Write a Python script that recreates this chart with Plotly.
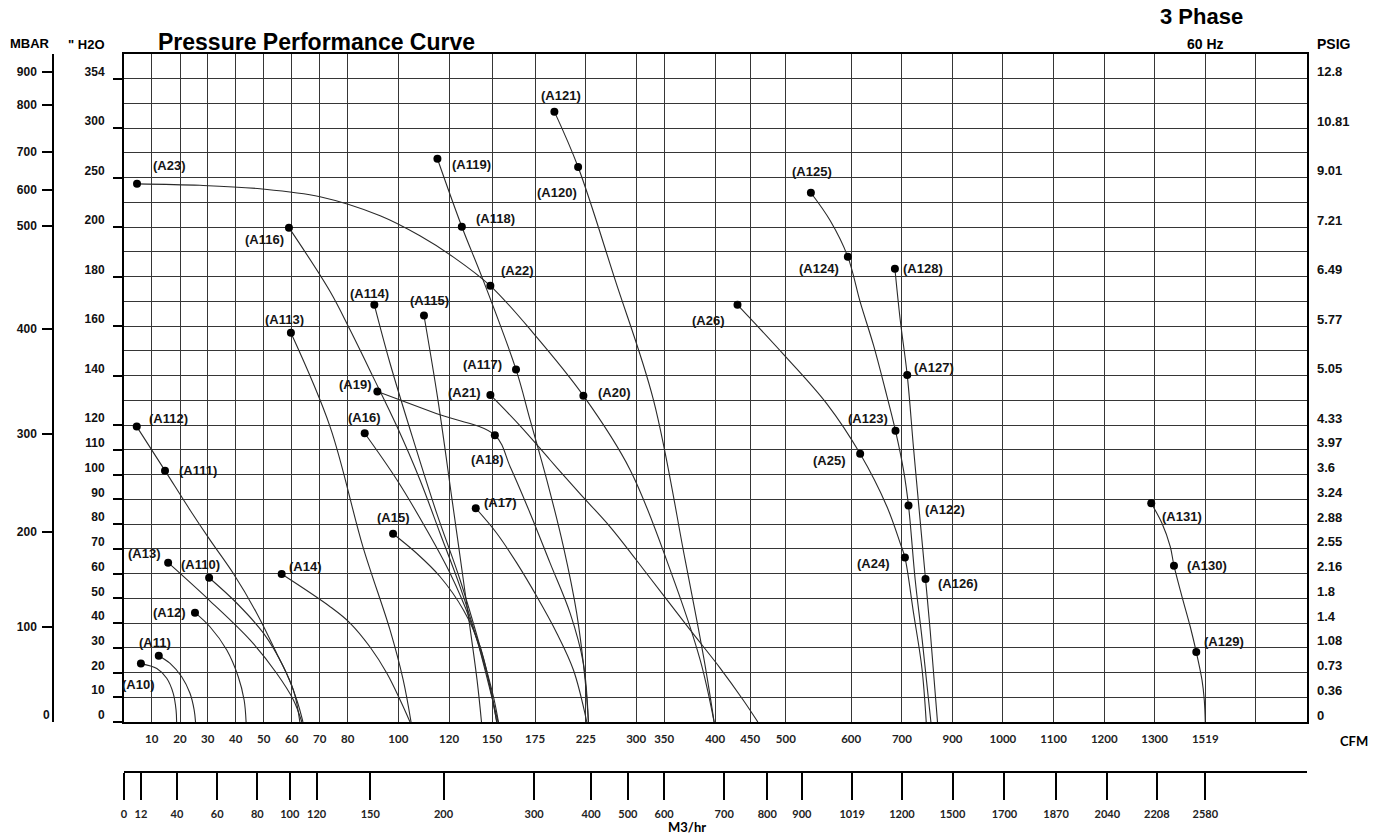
import numpy as np
import plotly.graph_objects as go

# ---------------- axis scales of the printed chart (non-uniform grid) ----------------
CFM_GRID = [0, 10, 20, 30, 40, 50, 60, 70, 80, 100, 120, 150, 175, 225, 300, 350, 400, 450,
            500, 600, 700, 900, 1000, 1100, 1200, 1300, 1519, 1620, 1720]
CFM_LABELS = ['', '10', '20', '30', '40', '50', '60', '70', '80', '100', '120', '150', '175', '225',
              '300', '350', '400', '450', '500', '600', '700', '900', '1000', '1100', '1200', '1300',
              '1519', '', '']
CFM_GRID_UNITS = [0, 27.7, 56, 83.7, 111.7, 139.7, 167.7, 195.7, 223.7, 274.3, 325, 368, 411, 461.7,
                  512, 540, 591, 626, 661.7, 727, 777.7, 828.3, 878.7, 929.3, 980, 1030.3, 1081,
                  1131.7, 1182.7]

H2O_BREAKS = [0, 200, 250, 300, 354, 381]
ROW_BREAKS = [0, 20, 22, 24, 26, 27]

H2O_TICKS = [0, 10, 20, 30, 40, 50, 60, 70, 80, 90, 100, 110, 120, 140, 160, 180, 200, 250, 300, 354]
PSIG_LABELS = ['0', '0.36', '0.73', '1.08', '1.4', '1.8', '2.16', '2.55', '2.88', '3.24', '3.6',
               '3.97', '4.33', '5.05', '5.77', '6.49', '7.21', '9.01', '10.81', '12.8']
MBAR_LABELS = ['100', '200', '300', '400', '500', '600', '700', '800', '900']
MBAR_AT_H2O = [38.3, 76.9, 116.4, 159, 201, 238, 276.3, 325.4, 361.8]
MBAR_ZERO = '0'

M3HR_LABELS = ['0', '12', '40', '60', '80', '100', '120', '150', '200', '300', '400', '500', '600',
               '700', '800', '900', '1019', '1200', '1500', '1700', '1870', '2040', '2208', '2580']
M3HR_AT_CFM = [0, 6.1, 18.9, 33.4, 47.7, 59.3, 68.9, 88.9, 117.8, 174.4, 232.9, 287.6, 350,
               412.9, 474, 524.5, 602, 700, 900, 1003, 1105, 1206, 1310, 1519]

# ---------------- pump curves (CFM vs inches H2O) ----------------
A10_CFM = [6.1, 11.8, 15.3, 17.6, 18.6, 18.8]
A10_H2O = [23.6, 21.6, 17.7, 11.6, 4.9, 0]
A11_CFM = [12.5, 16.5, 20.6, 23.6, 25.1, 25.6]
A11_H2O = [26.8, 23.7, 18.3, 11.6, 4.9, 0]
A12_CFM = [25.4, 30.8, 36.8, 40.9, 43.0, 43.7]
A12_H2O = [44.2, 38.5, 29.1, 18.3, 8.9, 0]
A13_CFM = [15.8, 30.5, 45.1, 54.6, 60.6, 63.6]
A13_H2O = [64.4, 49.3, 33.2, 19.7, 8.9, 0]
A110_CFM = [30.5, 40.4, 49.9, 57.0, 61.8, 64.0]
A110_H2O = [58.3, 48.0, 35.9, 22.4, 8.9, 0]
A112_CFM = [4.6, 14.7, 23.6, 30.8, 39.1, 47.5, 54.6, 60.6, 62.9]
A112_H2O = [119.4, 101.6, 85.7, 73.6, 60.1, 44.0, 27.8, 12.9, 0]
A14_CFM = [56.4, 73.7, 80.9, 88.8, 95.4, 100.7, 104.6]
A14_H2O = [59.8, 46.6, 40.0, 30.3, 19.8, 8.9, 0]
A113_CFM = [59.7, 73.7, 86.0, 96.7, 101.9, 105.0]
A113_H2O = [157.3, 119.3, 70.8, 37.2, 17.0, 0]
A116_CFM = [59.0, 73.7, 80.9, 90.0, 99.5, 108.5, 116.4, 127.7, 139.5, 148.6, 153.5]
A116_H2O = [199.8, 174.0, 158.5, 139.5, 119.3, 97.9, 76.4, 54.6, 33.2, 12.9, 0]
A114_CFM = [90.5, 96.7, 105.9, 115.1, 127.7, 141.6, 150.8, 153.7]
A114_H2O = [168.6, 145.0, 114.0, 84.4, 57.4, 30.5, 10.2, 0]
A115_CFM = [110.1, 115.6, 122.1, 131.9, 139.5, 142.6]
A115_H2O = [164.3, 130.2, 89.8, 49.3, 17.0, 0]
A16_CFM = [86.7, 99.4, 111.2, 120.7, 134.7, 146.3, 152.7]
A16_H2O = [116.7, 97.9, 77.6, 60.1, 41.2, 19.7, 0]
A15_CFM = [97.9, 107.2, 116.4, 130.0, 141.6, 148.6, 152.7]
A15_H2O = [76.1, 68.2, 58.8, 45.3, 30.5, 14.3, 0]
A19_CFM = [91.7, 114.9, 151.6, 160.5, 172.1, 189.8, 209.5, 222.6, 228.9]
A19_H2O = [133.6, 124.7, 115.9, 103.2, 84.4, 64.2, 44.0, 23.7, 0]
A17_CFM = [138.6, 152.7, 164.4, 176.7, 196.4, 212.8, 226.5]
A17_H2O = [86.4, 76.3, 64.2, 50.7, 35.9, 21.0, 0]
A119_CFM = [115.4, 128.9, 143.7, 163.9, 172.1, 186.5, 202.9, 216.0, 224.3, 228.9]
A119_H2O = [269.2, 200.5, 178.7, 142.5, 122.1, 97.9, 70.9, 44.0, 17.0, 0]
A121_CFM = [194.0, 217.4, 268.7, 330.9, 370.6, 389.2, 399]
A121_H2O = [318.1, 260.8, 178.7, 130.2, 65.5, 25.1, 0]
A23_CFM = [4.7, 27.2, 48.7, 70.1, 92.8, 108.5, 122.8, 148.8, 173.8, 222.6, 291.1, 355.9, 385.3, 399]
A23_H2O = [243.8, 242.3, 238.8, 230.7, 211.5, 196.5, 188.0, 176.3, 157.3, 131.9, 101.9, 61.5, 25.1, 0]
A21_CFM = [148.8, 166.3, 189.8, 219.4, 261.2, 325.0, 375.5, 407.1, 440.0, 460.8]
A21_H2O = [132.2, 119.7, 105.9, 92.2, 78.9, 58.2, 37.2, 21.8, 8.9, 0]
A125_CFM = [538.3, 567.8, 594.9, 617.7, 644.0, 667.0, 687.4, 706.3, 726.1, 752.6, 780.2, 814.6]
A125_H2O = [234.8, 206.7, 188.0, 169.8, 152.3, 134.5, 117.7, 101.9, 87.5, 57.4, 33.2, 0]
A26_CFM = [431.9, 496.7, 562.8, 617.7, 670.4, 696.6, 711.9, 745.9, 779.1, 796.1]
A26_H2O = [168.6, 148.6, 128.6, 108.4, 87.1, 72.3, 66.5, 44.1, 21.8, 0]
A128_CFM = [686.2, 696.6, 721.0, 745.9, 772.3, 793.3, 811.9, 840.7]
A128_H2O = [183.2, 162.7, 140.3, 110.8, 81.2, 57.8, 36.8, 0]
A131_CFM = [1293.4, 1332.0, 1367.8, 1383.8, 1418.4, 1454.2, 1480.1, 1504.8, 1514.7, 1519]
A131_H2O = [88.4, 80.3, 70.9, 63.2, 50.7, 38.5, 28.3, 17.0, 8.9, 0]

CURVES = [(A10_CFM, A10_H2O), (A11_CFM, A11_H2O), (A12_CFM, A12_H2O), (A13_CFM, A13_H2O),
          (A110_CFM, A110_H2O), (A112_CFM, A112_H2O), (A14_CFM, A14_H2O), (A113_CFM, A113_H2O),
          (A116_CFM, A116_H2O), (A114_CFM, A114_H2O), (A115_CFM, A115_H2O), (A16_CFM, A16_H2O),
          (A15_CFM, A15_H2O), (A19_CFM, A19_H2O), (A17_CFM, A17_H2O), (A119_CFM, A119_H2O),
          (A121_CFM, A121_H2O), (A23_CFM, A23_H2O), (A21_CFM, A21_H2O), (A125_CFM, A125_H2O),
          (A26_CFM, A26_H2O), (A128_CFM, A128_H2O), (A131_CFM, A131_H2O)]

# ---------------- labelled model points ----------------
POINT_NAMES = ['A10', 'A11', 'A12', 'A13', 'A110', 'A111', 'A112', 'A14', 'A113', 'A116', 'A114',
               'A115', 'A19', 'A16', 'A15', 'A117', 'A21', 'A18', 'A17', 'A20', 'A22', 'A118',
               'A119', 'A121', 'A120', 'A23', 'A125', 'A124', 'A128', 'A26', 'A127', 'A123', 'A25',
               'A122', 'A24', 'A126', 'A131', 'A130', 'A129']
POINT_CFM = [6.1, 12.5, 25.4, 15.8, 30.5, 14.7, 4.6, 56.4, 59.7, 59.0, 90.5, 110.1, 91.7, 86.7,
             97.9, 163.9, 148.8, 151.6, 138.6, 222.6, 148.8, 128.9, 115.4, 194.0, 217.4, 4.7,
             538.3, 594.9, 686.2, 431.9, 721.0, 687.4, 617.7, 726.1, 711.9, 793.3, 1293.4, 1383.8,
             1480.1]
POINT_H2O = [23.6, 26.8, 44.2, 64.4, 58.3, 101.6, 119.4, 59.8, 157.3, 199.8, 168.6, 164.3, 133.6,
             116.7, 76.1, 142.5, 132.2, 115.9, 86.4, 131.9, 176.3, 200.5, 269.2, 318.1, 260.8,
             243.8, 234.8, 188.0, 183.2, 168.6, 140.3, 117.7, 108.4, 87.5, 66.5, 57.8, 88.4, 63.2,
             28.3]

# label placement style: (anchor, x shift px, y shift px downwards)
LABEL_STYLE = [('center', -2, 21), ('center', -4, -13), ('right', -7, 0), ('right', -5, -9),
               ('center', -9, -13), ('left', 12, 0), ('left', 10, -8), ('left', 5, -8),
               ('center', -6, -13), ('right', -3, 12), ('center', -5, -11), ('center', 6, -15),
               ('right', -3, -7), ('center', 0, -16), ('center', 0, -16), ('right', -12, -5),
               ('right', -7, -2), ('center', -7, 24), ('left', 6, -6), ('left', 13, -3),
               ('left', 9, -15), ('left', 12, -8), ('left', 13, 6), ('center', 7, -16),
               ('center', -21, 25), ('left', 14, -18), ('center', 1, -21), ('right', -7, 12),
               ('left', 6, 0), ('right', -10, 16), ('left', 5, -7), ('right', -6, -12),
               ('right', -12, 7), ('left', 14, 4), ('right', -13, 6), ('left', 10, 4),
               ('left', 9, 13), ('left', 11, 0), ('left', 6, -10)]


def fx(v):
    return np.interp(np.asarray(v, dtype=float), CFM_GRID, CFM_GRID_UNITS)


def fy(v):
    return np.interp(np.asarray(v, dtype=float), H2O_BREAKS, ROW_BREAKS)


# ---------------- figure geometry ----------------
W, H = 1382, 837
PL, PR, PT, PB = 20, 1307, 54, 772          # plotting region in px
XDOM0 = (124 - PL) / (PR - PL)
YDOM0 = (PB - 722) / (PB - PT)
XMAX = CFM_GRID_UNITS[-1]
YMAX = ROW_BREAKS[-1]


def paper_x(px):
    return (px - PL) / (PR - PL)


def paper_y(py):
    return (PB - py) / (PB - PT)


GRID = '#363636'
LINE = '#2a2a2a'
ARIAL = 'Liberation Sans'
CAL = 'Lato'

fig = go.Figure()

for cfm, h2o in CURVES:
    fig.add_trace(go.Scatter(x=fx(cfm), y=fy(h2o), mode='lines',
                             line=dict(color=LINE, width=1.1, shape='spline', smoothing=1.0),
                             hoverinfo='skip', showlegend=False))

fig.add_trace(go.Scatter(x=fx(POINT_CFM), y=fy(POINT_H2O), mode='markers',
                         marker=dict(size=8, color='black'), text=POINT_NAMES,
                         hoverinfo='text', showlegend=False))

# dummy traces so the extra axes are drawn
fig.add_trace(go.Scatter(x=[None], y=[None], xaxis='x', yaxis='y2', showlegend=False, hoverinfo='skip'))
fig.add_trace(go.Scatter(x=[None], y=[None], xaxis='x', yaxis='y3', showlegend=False, hoverinfo='skip'))
fig.add_trace(go.Scatter(x=[None], y=[None], xaxis='x2', yaxis='y', showlegend=False, hoverinfo='skip'))

annotations = []
for name, c, h, (anc, dx, dy) in zip(POINT_NAMES, POINT_CFM, POINT_H2O, LABEL_STYLE):
    annotations.append(dict(x=float(fx(c)), y=float(fy(h)), xref='x', yref='y',
                            text='(' + name + ')', showarrow=False, xanchor=anc, yanchor='middle',
                            xshift=dx, yshift=-dy,
                            font=dict(family=ARIAL, size=13, color='#151515', weight='bold')))


def head(text, px, py, size, anchor='left', family=ARIAL, color='black'):
    annotations.append(dict(x=paper_x(px), y=paper_y(py), xref='paper', yref='paper', text=text,
                            showarrow=False, xanchor=anchor, yanchor='middle',
                            font=dict(family=family, size=size, color=color, weight='bold')))


head('MBAR', 8, 44, 13)
head('" H2O', 66, 45, 13)
head('Pressure Performance Curve', 156, 42, 23)
head('3 Phase', 1201, 17, 22, anchor='center')
head('60 Hz', 1205, 44, 14, anchor='center')
head('PSIG', 1315, 44, 14)
head('CFM', 1338, 741, 13, family=CAL)
head('M3/hr', 666, 827, 13, family=CAL)
head(MBAR_ZERO, 46, 715, 12, anchor='center', color='#111')

row_ticks = [float(v) for v in fy(H2O_TICKS)]

fig.update_layout(
    width=W, height=H,
    margin=dict(l=PL, r=W - PR, t=PT, b=H - PB, pad=0),
    paper_bgcolor='white', plot_bgcolor='white',
    showlegend=False,
    annotations=annotations,
    xaxis=dict(domain=[XDOM0, 1], range=[0, XMAX], anchor='y',
               tickmode='array', tickvals=[float(v) for v in fx(CFM_GRID)], ticktext=CFM_LABELS,
               showgrid=True, gridcolor=GRID, gridwidth=1.3, zeroline=False,
               showline=True, mirror=True, linecolor='black', linewidth=2, ticks='',
               ticklabelstandoff=5,
               tickfont=dict(family=CAL, size=11.5, color='#222', weight='bold')),
    xaxis2=dict(overlaying='x', anchor='free', position=0, side='bottom', range=[0, XMAX],
                tickmode='array', tickvals=[float(v) for v in fx(M3HR_AT_CFM)], ticktext=M3HR_LABELS,
                showgrid=False, zeroline=False, showline=True, linecolor='black', linewidth=1.5,
                ticks='outside', ticklen=27, tickwidth=1.5, tickcolor='black',
                ticklabelstandoff=5,
                tickfont=dict(family=CAL, size=11, color='#222', weight='bold')),
    yaxis=dict(domain=[YDOM0, 1], range=[0, YMAX], anchor='x',
               tickmode='array', tickvals=row_ticks, ticktext=[str(v) for v in H2O_TICKS],
               showgrid=True, gridcolor=GRID, gridwidth=1.3, zeroline=False,
               showline=True, mirror=True, linecolor='black', linewidth=2,
               ticks='outside', ticklen=9, tickwidth=1.5, tickcolor='black',
               ticklabelshift=-7, ticklabelstandoff=6,
               minor=dict(tickmode='array', tickvals=list(range(1, YMAX)), showgrid=True,
                          gridcolor=GRID, gridwidth=1.3, ticks=''),
               tickfont=dict(family=ARIAL, size=12, color='#111', weight='bold')),
    yaxis2=dict(overlaying='y', side='right', anchor='x', range=[0, YMAX],
                tickmode='array', tickvals=row_ticks, ticktext=PSIG_LABELS,
                showgrid=False, zeroline=False, showline=False, ticks='',
                ticklabelshift=-7, ticklabelstandoff=9,
                tickfont=dict(family=ARIAL, size=13, color='#111', weight='bold')),
    yaxis3=dict(overlaying='y', side='left', anchor='free', position=paper_x(53), range=[0, YMAX],
                tickmode='array', tickvals=[float(v) for v in fy(MBAR_AT_H2O)], ticktext=MBAR_LABELS,
                showgrid=False, zeroline=False, showline=True, linecolor='black', linewidth=1.5,
                ticks='outside', ticklen=10, tickwidth=1.5, tickcolor='black',
                ticklabelstandoff=3,
                tickfont=dict(family=ARIAL, size=12, color='#111', weight='bold')),
)

fig.write_html('out.html', config={'displayModeBar': False},
               post_script="document.body.style.margin='0px';document.body.style.overflow='hidden';")
